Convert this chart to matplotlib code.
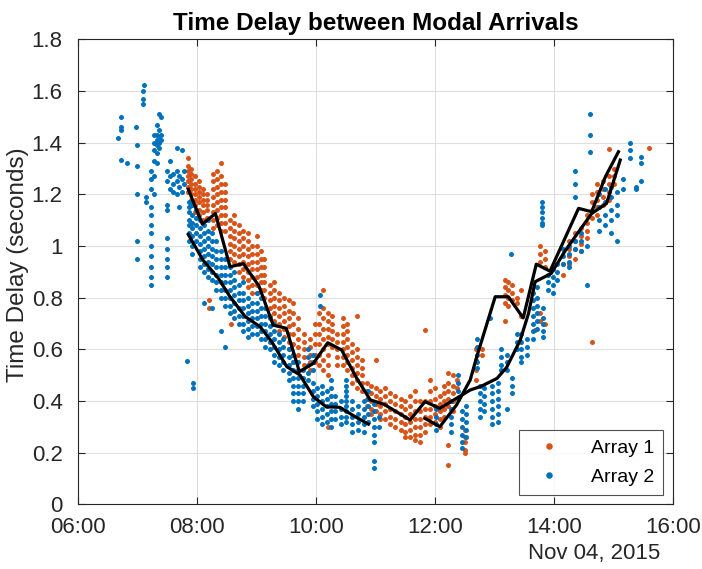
import numpy as np
import matplotlib
matplotlib.use("Agg")
import matplotlib.pyplot as plt
import matplotlib.dates as mdates
from matplotlib.ticker import FixedLocator, FormatStrFormatter

plt.rcParams['font.family'] = ['Liberation Sans', 'DejaVu Sans']

# time of day (hours) -> delays, one streak per time
a1_streaks = [
    (7.85, [1.34, 1.31, 1.29, 1.27, 1.25, 1.23, 1.21]),
    (7.90, [1.30, 1.28, 1.26, 1.24, 1.22, 1.20, 1.18, 1.16]),
    (7.97, [1.27, 1.24, 1.22, 1.20, 1.18, 1.16, 1.13]),
    (8.03, [1.25, 1.23, 1.21, 1.19, 1.17, 1.14, 1.12]),
    (8.10, [1.22, 1.20, 1.18, 1.16, 1.13, 1.10]),
    (8.17, [1.20, 1.18, 1.16, 1.14, 1.11]),
    (8.20, [0.79, 0.76]),
    (8.27, [1.28, 1.25, 1.22, 1.19, 1.16, 1.13, 1.10, 1.07]),
    (8.33, [1.29, 1.26, 1.23, 1.20, 1.17, 1.14, 1.11, 1.08]),
    (8.40, [1.32, 1.27, 1.24, 1.21, 1.18, 1.15, 1.12, 1.09, 1.06]),
    (8.47, [1.24, 1.21, 1.18, 1.15, 1.12, 1.09, 1.06]),
    (8.55, [1.10, 1.07, 1.04, 1.01, 0.98, 0.95]),
    (8.57, [0.70]),
    (8.62, [1.12, 1.09, 1.06, 1.03, 1.00, 0.97, 0.94]),
    (8.70, [1.08, 1.05, 1.02, 0.99, 0.96, 0.93, 0.90]),
    (8.78, [1.06, 1.03, 1.00, 0.97, 0.94, 0.91, 0.88]),
    (8.85, [1.05, 1.02, 0.99, 0.96, 0.93, 0.90, 0.87, 0.84]),
    (8.92, [1.00, 0.97, 0.94, 0.91, 0.88, 0.85, 0.82]),
    (9.00, [1.04, 1.00, 0.97, 0.94, 0.91, 0.88, 0.85, 0.82]),
    (9.07, [0.98, 0.95, 0.92, 0.89, 0.86, 0.83]),
    (9.13, [0.95, 0.92, 0.89, 0.86, 0.83, 0.80]),
    (9.22, [0.85, 0.82, 0.79, 0.76, 0.73]),
    (9.30, [0.86, 0.83, 0.80, 0.77, 0.74, 0.71]),
    (9.38, [0.82, 0.79, 0.76, 0.73, 0.70, 0.67]),
    (9.46, [0.80, 0.77, 0.74, 0.71, 0.68, 0.65]),
    (9.55, [0.79, 0.75, 0.72, 0.69, 0.66, 0.63, 0.60]),
    (9.62, [0.78, 0.74, 0.70, 0.66, 0.62, 0.58, 0.55]),
    (9.70, [0.72, 0.68, 0.64, 0.61, 0.58]),
    (9.80, [0.66, 0.63, 0.60, 0.57, 0.54]),
    (9.90, [0.64, 0.61, 0.58, 0.55, 0.52]),
    (9.98, [0.70, 0.66, 0.62, 0.58, 0.55]),
    (10.05, [0.74, 0.70, 0.66, 0.62, 0.58, 0.54]),
    (10.12, [0.83, 0.76, 0.72, 0.68, 0.64, 0.60, 0.56, 0.52]),
    (10.20, [0.74, 0.71, 0.68, 0.65, 0.62, 0.58, 0.54, 0.50, 0.30]),
    (10.27, [0.73, 0.70, 0.67, 0.64, 0.61]),
    (10.35, [0.66, 0.63, 0.60, 0.57, 0.54]),
    (10.45, [0.72, 0.69, 0.66, 0.63, 0.60, 0.57, 0.54]),
    (10.52, [0.70, 0.67, 0.64, 0.61, 0.58, 0.55, 0.52]),
    (10.60, [0.62, 0.59, 0.56, 0.53, 0.50, 0.47]),
    (10.68, [0.73, 0.60, 0.57, 0.54, 0.51, 0.48, 0.45]),
    (10.77, [0.56, 0.53, 0.50, 0.47, 0.44]),
    (10.85, [0.47, 0.44, 0.41, 0.38]),
    (10.92, [0.46, 0.43, 0.40, 0.37, 0.35]),
    (11.00, [0.56, 0.45, 0.42, 0.39, 0.36]),
    (11.08, [0.44, 0.41, 0.38, 0.35, 0.33]),
    (11.16, [0.45, 0.42, 0.39, 0.36, 0.33]),
    (11.25, [0.43, 0.40, 0.37, 0.34, 0.31]),
    (11.33, [0.42, 0.39, 0.36, 0.33, 0.30]),
    (11.42, [0.41, 0.38, 0.35, 0.32, 0.29]),
    (11.50, [0.40, 0.37, 0.34, 0.31, 0.28, 0.26]),
    (11.58, [0.42, 0.38, 0.35, 0.32, 0.29, 0.26]),
    (11.66, [0.44, 0.40, 0.36, 0.33, 0.30, 0.27, 0.25]),
    (11.75, [0.40, 0.36, 0.33, 0.30, 0.27, 0.24]),
    (11.83, [0.675, 0.40, 0.37, 0.34, 0.31, 0.28]),
    (11.92, [0.48, 0.44, 0.40, 0.37, 0.34, 0.31]),
    (12.00, [0.45, 0.41, 0.38, 0.35, 0.32]),
    (12.08, [0.42, 0.39, 0.36, 0.33, 0.30]),
    (12.15, [0.46, 0.43, 0.40, 0.37, 0.34]),
    (12.22, [0.51, 0.47, 0.44, 0.41, 0.38, 0.23, 0.153]),
    (12.30, [0.50, 0.46, 0.43, 0.40, 0.36]),
    (12.36, [0.48, 0.45]),
    (12.50, [0.29, 0.26, 0.24, 0.21, 0.20]),
    (12.68, [0.60, 0.56, 0.52, 0.48]),
    (12.78, [0.60, 0.58]),
    (13.17, [0.87, 0.84, 0.81, 0.78, 0.71]),
    (13.23, [0.86, 0.83, 0.80, 0.77]),
    (13.29, [0.85, 0.82, 0.79]),
    (13.37, [0.80, 0.78]),
    (13.45, [0.83, 0.73]),
    (13.68, [0.675]),
    (13.76, [1.00, 0.97, 0.94, 0.74, 0.71]),
    (13.84, [0.98, 0.95, 0.92, 0.70]),
    (14.15, [0.89, 0.93]),
    (14.25, [1.02, 0.99, 0.96, 0.93]),
    (14.35, [1.05, 1.02, 0.99, 0.95]),
    (14.45, [1.07, 1.04, 1.01, 0.98]),
    (14.55, [1.12, 1.09, 1.06, 1.03]),
    (14.63, [1.20, 1.17, 1.14, 1.11, 0.63]),
    (14.72, [1.24, 1.21, 1.18, 1.15, 1.12]),
    (14.82, [1.25, 1.22, 1.19, 1.16]),
    (14.92, [1.375, 1.27, 1.24, 1.21, 1.18]),
    (15.00, [1.30, 1.27, 1.24]),
    (15.59, [1.38]),
]

a2_streaks = [
    (6.68, [1.42]),
    (6.72, [1.50, 1.46, 1.45, 1.335]),
    (6.82, [1.32]),
    (6.97, [1.46]),
    (7.00, [1.39, 1.31, 1.20, 1.02, 0.95]),
    (7.09, [1.60, 1.57, 1.55]),
    (7.11, [1.625]),
    (7.14, [1.19, 1.17]),
    (7.22, [1.29, 1.26, 1.22, 1.15, 1.12, 1.08, 1.05, 1.00, 0.96, 0.92, 0.88, 0.85]),
    (7.27, [1.43, 1.40, 1.37, 1.33, 1.27, 1.20]),
    (7.32, [1.47, 1.43, 1.41, 1.39, 1.36, 1.32]),
    (7.36, [1.51, 1.45, 1.42, 1.40, 1.38]),
    (7.39, [1.50, 1.43, 1.41]),
    (7.50, [1.29, 1.25, 1.16, 1.14, 1.03, 0.99, 0.95, 0.92, 0.88]),
    (7.54, [1.33, 1.27, 1.22]),
    (7.60, [1.28, 1.24, 1.21]),
    (7.66, [1.38, 1.29, 1.25, 1.20]),
    (7.70, [1.27, 1.23, 1.15]),
    (7.74, [1.37, 1.26, 1.21]),
    (7.78, [1.29, 1.24]),
    (7.83, [0.555]),
    (7.86, [1.17, 1.15, 1.13, 1.10, 1.08, 1.05, 1.02]),
    (7.92, [1.16, 1.12, 1.09, 1.07, 1.04, 1.00, 0.97]),
    (7.93, [0.47, 0.45]),
    (7.98, [1.14, 1.11, 1.08, 1.05, 1.02]),
    (8.05, [1.10, 1.07, 1.04, 1.01, 0.98, 0.95, 0.92]),
    (8.12, [1.08, 1.05, 1.02, 0.99, 0.96, 0.93, 0.90, 0.78]),
    (8.18, [1.10, 1.06, 1.03, 1.00, 0.97, 0.94, 0.91, 0.88]),
    (8.25, [1.05, 1.02, 0.99, 0.96, 0.93, 0.90, 0.87, 0.76]),
    (8.32, [1.02, 0.98, 0.95, 0.92, 0.89, 0.86, 0.83]),
    (8.40, [0.98, 0.95, 0.92, 0.89, 0.86, 0.83, 0.80, 0.67]),
    (8.47, [0.95, 0.92, 0.89, 0.86, 0.83, 0.80, 0.77, 0.61]),
    (8.55, [0.92, 0.89, 0.86, 0.83, 0.80, 0.77, 0.74]),
    (8.62, [0.90, 0.87, 0.84, 0.81, 0.78, 0.75, 0.72]),
    (8.70, [0.85, 0.82, 0.79, 0.76, 0.73, 0.70]),
    (8.78, [0.86, 0.82, 0.79, 0.76, 0.73, 0.70, 0.67]),
    (8.85, [0.80, 0.77, 0.74, 0.71, 0.68, 0.65]),
    (8.92, [0.78, 0.75, 0.72, 0.69, 0.66]),
    (9.00, [0.82, 0.78, 0.75, 0.72, 0.69, 0.66]),
    (9.07, [0.80, 0.76, 0.73, 0.70, 0.67, 0.64]),
    (9.15, [0.76, 0.73, 0.70, 0.67, 0.64, 0.61]),
    (9.22, [0.72, 0.69, 0.66, 0.63, 0.60]),
    (9.30, [0.70, 0.67, 0.64, 0.61, 0.58, 0.55]),
    (9.38, [0.66, 0.63, 0.60, 0.57, 0.54]),
    (9.45, [0.64, 0.61, 0.58, 0.55, 0.52]),
    (9.55, [0.60, 0.57, 0.54, 0.51, 0.48]),
    (9.62, [0.58, 0.55, 0.52, 0.49, 0.46, 0.43, 0.40]),
    (9.70, [0.55, 0.52, 0.49, 0.46, 0.43, 0.40, 0.37]),
    (9.78, [0.52, 0.49, 0.46, 0.43, 0.40]),
    (9.86, [0.60, 0.57, 0.54, 0.51, 0.48]),
    (9.95, [0.58, 0.55, 0.52, 0.47, 0.44, 0.41, 0.38]),
    (10.02, [0.45, 0.42, 0.39, 0.36, 0.33]),
    (10.06, [0.81, 0.77]),
    (10.10, [0.46, 0.43, 0.40, 0.37, 0.34, 0.31]),
    (10.18, [0.44, 0.41, 0.38, 0.35, 0.32]),
    (10.25, [0.48, 0.45, 0.42, 0.39, 0.36, 0.33, 0.30]),
    (10.32, [0.42, 0.39, 0.36, 0.33]),
    (10.42, [0.40, 0.37, 0.34, 0.31]),
    (10.50, [0.48, 0.46, 0.44, 0.42, 0.40, 0.38, 0.36, 0.34, 0.32]),
    (10.60, [0.40, 0.37, 0.34, 0.31, 0.28]),
    (10.70, [0.38, 0.35, 0.32, 0.29]),
    (10.80, [0.40, 0.37, 0.34, 0.31, 0.28]),
    (10.88, [0.44, 0.41, 0.38, 0.35, 0.32]),
    (10.98, [0.39, 0.36, 0.33, 0.30, 0.27, 0.24, 0.17, 0.14]),
    (11.05, [0.34, 0.30]),
    (12.02, [0.37, 0.34, 0.31, 0.29]),
    (12.27, [0.40, 0.37, 0.34, 0.31, 0.28]),
    (12.38, [0.50, 0.47, 0.44, 0.41]),
    (12.45, [0.36, 0.33, 0.30, 0.27, 0.24, 0.22]),
    (12.52, [0.38, 0.35, 0.32, 0.29, 0.26]),
    (12.70, [0.64, 0.61, 0.58, 0.55, 0.53]),
    (12.75, [0.46, 0.43, 0.40, 0.37, 0.34]),
    (12.82, [0.45, 0.42, 0.39, 0.36]),
    (12.92, [0.72]),
    (12.95, [0.46, 0.43, 0.40, 0.37, 0.34, 0.31]),
    (13.05, [0.47, 0.44, 0.41, 0.38, 0.35, 0.32]),
    (13.10, [0.60, 0.57, 0.54, 0.52]),
    (13.20, [0.58, 0.55, 0.52, 0.37]),
    (13.28, [0.97]),
    (13.30, [0.49, 0.46, 0.43]),
    (13.38, [0.66, 0.63, 0.60]),
    (13.45, [0.66, 0.63, 0.60, 0.57, 0.55]),
    (13.55, [0.64, 0.61, 0.58]),
    (13.65, [0.82, 0.79, 0.76, 0.73, 0.70, 0.67, 0.64]),
    (13.72, [0.84, 0.80, 0.77, 0.74, 0.71, 0.68]),
    (13.79, [1.17, 1.15, 1.13, 1.11, 1.09, 1.08]),
    (13.82, [0.76, 0.72, 0.70, 0.67, 0.65]),
    (13.90, [0.89, 0.86, 0.83]),
    (13.98, [0.91, 0.88, 0.85, 0.82]),
    (14.05, [0.93, 0.90, 0.87]),
    (14.15, [0.99, 0.96, 0.93]),
    (14.25, [1.00, 0.97, 0.94, 0.92]),
    (14.35, [1.29, 1.24, 1.19, 1.02, 0.99]),
    (14.45, [1.05, 1.02, 0.98]),
    (14.55, [0.85, 1.00]),
    (14.61, [1.51, 1.43, 1.365]),
    (14.75, [1.20, 1.15, 1.10, 1.06]),
    (14.85, [1.22, 1.17, 1.12, 1.08]),
    (14.95, [1.23, 1.19, 1.14, 1.10, 1.05]),
    (15.05, [1.21, 1.16, 1.12, 1.02]),
    (15.15, [1.26, 1.22]),
    (15.27, [1.40, 1.37, 1.34]),
    (15.38, [1.23, 1.22]),
    (15.46, [1.345, 1.32, 1.25]),
]

# the two black trend lines (nan = gap)
line_a_t = [7.854, 8.09, 8.31, 8.555, 8.78, 9.04, 9.28, 9.50, 9.72, 9.955, 10.196,
            10.43, 10.68, 10.91, 11.14, 11.58, 11.83, 12.08, 12.36, 12.59, 12.78,
            13.04, 13.20, 13.43, 13.57, 13.68, 13.95, 14.18, 14.41, 14.63, 14.88, 15.11]
line_a_y = [1.22, 1.085, 1.126, 0.92, 0.932, 0.846, 0.694, 0.682, 0.514, 0.546, 0.626,
            0.598, 0.49, 0.405, 0.388, 0.327, 0.398, 0.372, 0.411, 0.443, 0.458,
            0.488, 0.53, 0.636, 0.74, 0.862, 0.894, 0.98, 1.055, 1.126, 1.165, 1.333]
line_b_t = [7.854, 8.10, 8.36, 8.555, 8.81, 9.06, 9.255, 9.51, 9.73, 9.955, 10.17,
            10.40, 10.655, 10.88, np.nan, 11.83, 12.08, 12.36, 12.59, 12.70, 13.01,
            13.23, 13.48, 13.70, 13.93, 14.41, 14.63, 14.86, 15.08]
line_b_y = [1.045, 0.946, 0.875, 0.804, 0.727, 0.688, 0.63, 0.533, 0.501, 0.417, 0.378,
            0.376, 0.34, 0.311, np.nan, 0.333, 0.301, 0.385, 0.482, 0.572, 0.804,
            0.804, 0.722, 0.93, 0.903, 1.146, 1.133, 1.268, 1.365]

day = np.datetime64('2015-11-04T00:00:00')


def to_time(hours):
    h = np.asarray(hours, dtype=float)
    out = np.full(h.shape, np.datetime64('NaT'), dtype='datetime64[s]')
    ok = ~np.isnan(h)
    out[ok] = day + (h[ok] * 3600).round().astype('timedelta64[s]')
    return out


def flatten(streaks):
    t, y = [], []
    for h, vals in streaks:
        t += [h] * len(vals)
        y += vals
    return to_time(t), np.array(y)


orange = '#D95319'
blue = '#0072BD'
ink = '#262626'

fig = plt.figure(figsize=(7.02, 5.69), dpi=100)
ax = fig.add_axes([0.111, 0.1134, 0.848, 0.8174])

t1, y1 = flatten(a1_streaks)
t2, y2 = flatten(a2_streaks)
ax.plot(t1, y1, 'o', color=orange, markersize=3.6, markeredgewidth=0, label='Array 1')
ax.plot(t2, y2, 'o', color=blue, markersize=3.6, markeredgewidth=0, label='Array 2')
ax.plot(to_time(line_a_t), line_a_y, color='black', lw=2.3)
ax.plot(to_time(line_b_t), line_b_y, color='black', lw=2.3)

ax.set_xlim(to_time([6.0])[0], to_time([16.0])[0])
ax.set_ylim(0, 1.8)
ax.xaxis.set_major_locator(mdates.HourLocator(byhour=range(6, 17, 2)))
ax.xaxis.set_major_formatter(mdates.DateFormatter('%H:%M'))
ax.yaxis.set_major_locator(FixedLocator(np.arange(0, 1.81, 0.2)))
ax.yaxis.set_major_formatter(FormatStrFormatter('%g'))

ax.grid(True, color='#dfdfdf', lw=0.8)
ax.set_axisbelow(True)
ax.tick_params(direction='in', length=5, width=0.8, top=True, right=True,
               labelsize=16, colors=ink)
ax.tick_params(axis='x', pad=9)
ax.tick_params(axis='y', pad=11)
for s in ax.spines.values():
    s.set_color(ink)
    s.set_linewidth(0.8)

ax.set_ylabel('Time Delay (seconds)', fontsize=17.5, color=ink)
ax.yaxis.set_label_coords(-0.082, 0.515)
ax.set_title('Time Delay between Modal Arrivals', fontsize=17.5, fontweight='bold',
             color='black', pad=7)
fig.text(0.94, 0.017, 'Nov 04, 2015', ha='right', va='baseline', fontsize=16, color=ink)

leg = ax.legend(loc='lower right', fontsize=14, frameon=True, fancybox=False,
                edgecolor=ink, markerscale=1.3, handlelength=2.2, handletextpad=1.1,
                borderaxespad=0.5, labelspacing=0.6, borderpad=0.45)
leg.get_frame().set_linewidth(0.8)

fig.savefig('out.png', dpi=100)
